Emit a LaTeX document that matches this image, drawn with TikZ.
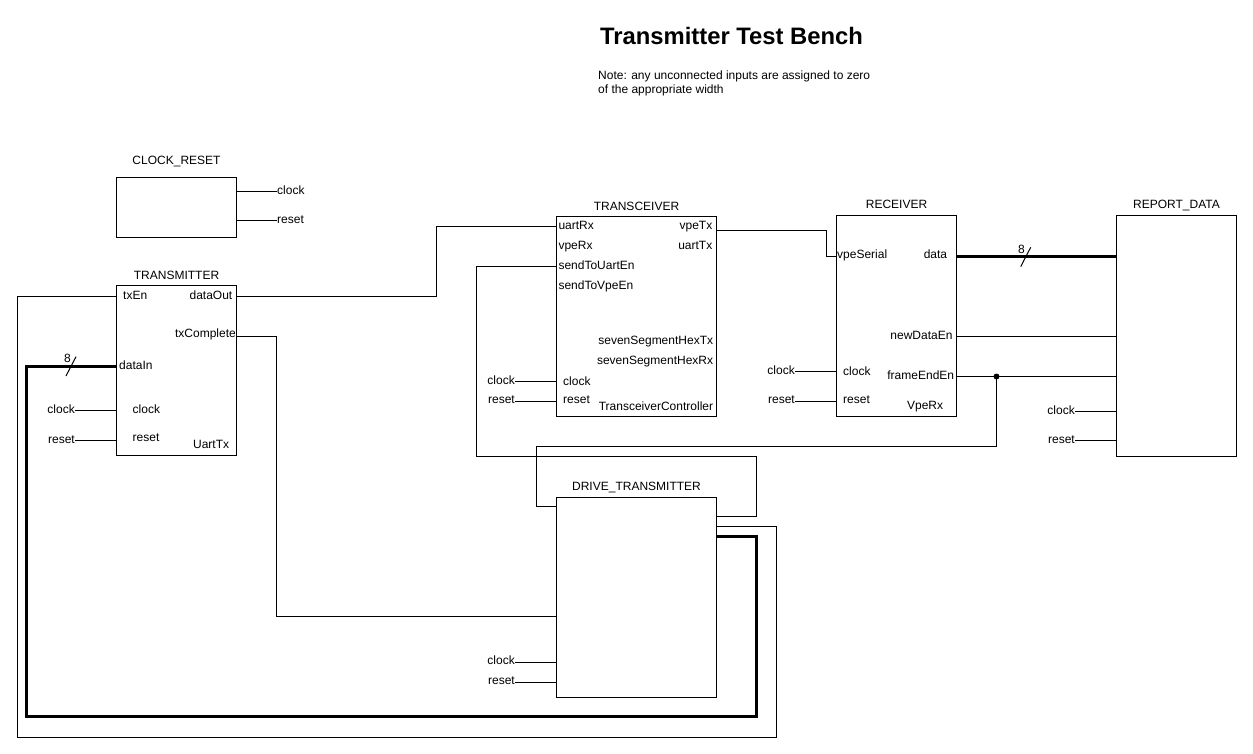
\documentclass[tikz,border=0pt]{standalone}
\usepackage{fontspec}
\setmainfont{Liberation Sans}
\usetikzlibrary{positioning}

\begin{document}
\begin{tikzpicture}[x=1pt, y=-1pt,
    box/.style = {draw, line width=1pt, anchor=north west, inner sep=0pt},% module boxes
    pin/.style = {inner sep=0pt, font=\fontsize{12}{14}\selectfont},% port labels
    wire/.style = {line width=1pt},
    bus/.style = {line width=3pt}
    ]
    \useasboundingbox (0,0) rectangle (1253,754);
    \node (title) [anchor=base west, inner sep=0pt, font=\fontsize{23.8}{28}\selectfont\bfseries] at (600,45) {Transmitter Test Bench};
    \node (note) [pin, anchor=base west, align=left] at (598,93.3) {Note: any unconnected inputs are assigned to zero\\of the appropriate width};

    % modules
    \node (cr)  [box, minimum width=120pt, minimum height=60pt]    at (116,177) {};
    \node (tx)  [box, minimum width=120pt, minimum height=170pt]   at (116,285) {};
    \node (trx) [box, minimum width=160pt, minimum height=200pt]   at (556,216) {};
    \node (rx)  [box, minimum width=120pt, minimum height=200pt]   at (836,215.5) {};
    \node (rep) [box, minimum width=120pt, minimum height=240.5pt] at (1116,215.5) {};
    \node (drv) [box, minimum width=160pt, minimum height=200pt]   at (556,496.5) {};
    \node (crName)  [pin, above=12pt of cr.north, anchor=base] {CLOCK\_RESET};
    \node (txName)  [pin, above=5.7pt of tx.north, anchor=base] {TRANSMITTER};
    \node (trxName) [pin, above=5.5pt of trx.north, anchor=base] {TRANSCEIVER};
    \node (rxName)  [pin, above=6.5pt of rx.north, anchor=base] {RECEIVER};
    \node (repName) [pin, above=6.5pt of rep.north, anchor=base] {REPORT\_DATA};
    \node (drvName) [pin, above=6.5pt of drv.north, anchor=base] {DRIVE\_TRANSMITTER};

    % ports of TRANSMITTER
    \node (txEn)    [pin, anchor=base west] at (123,299.3) {txEn};
    \node (txOut)   [pin, anchor=base east] at (232.5,299.3) {dataOut};
    \node (txDone)  [pin, anchor=base east] at (236,337.3) {txComplete};
    \node (txIn)    [pin, anchor=base west] at (119,369.3) {dataIn};
    \node (txClkIn) [pin, anchor=base west] at (132.5,413.5) {clock};
    \node (txRstIn) [pin, anchor=base west] at (132.5,441) {reset};
    \node (txType)  [pin, anchor=base east] at (229.3,448.3) {UartTx};

    % ports of TRANSCEIVER
    \node (trxURx)   [pin, anchor=base west] at (558.3,229.5) {uartRx};
    \node (trxVRx)   [pin, anchor=base west] at (558.3,249.5) {vpeRx};
    \node (trxSendU) [pin, anchor=base west] at (558.3,269.5) {sendToUartEn};
    \node (trxSendV) [pin, anchor=base west] at (558.3,289.5) {sendToVpeEn};
    \node (trxVTx)   [pin, anchor=base east] at (712.5,229.5) {vpeTx};
    \node (trxUTx)   [pin, anchor=base east] at (712.5,249.5) {uartTx};
    \node (trxHexTx) [pin, anchor=base east] at (713.3,344.3) {sevenSegmentHexTx};
    \node (trxHexRx) [pin, anchor=base east] at (713.3,364.3) {sevenSegmentHexRx};
    \node (trxClkIn) [pin, anchor=base west] at (563,385) {clock};
    \node (trxRstIn) [pin, anchor=base west] at (563,403.3) {reset};
    \node (trxType)  [pin, anchor=base east] at (713.3,410) {TransceiverController};

    % ports of RECEIVER
    \node (rxSerial) [pin, anchor=base west] at (837,258.3) {vpeSerial};
    \node (rxData)   [pin, anchor=base east] at (947.3,258.3) {data};
    \node (rxNew)    [pin, anchor=base east] at (952.7,339.3) {newDataEn};
    \node (rxClkIn)  [pin, anchor=base west] at (843,375) {clock};
    \node (rxEnd)    [pin, anchor=base east] at (954.3,379) {frameEndEn};
    \node (rxRstIn)  [pin, anchor=base west] at (843,403.3) {reset};
    \node (rxType)   [pin, anchor=base east] at (943.3,409) {VpeRx};

    % clock and reset
    \node (crClk)  [pin, anchor=mid west] at (277,191.5) {clock};
    \node (crRst)  [pin, anchor=mid west] at (277,220.5) {reset};
    \node (txClk)  [pin, anchor=mid east] at (75,410.5) {clock};
    \node (txRst)  [pin, anchor=mid east] at (75,440.5) {reset};
    \node (trxClk) [pin, anchor=mid east] at (515,381.5) {clock};
    \node (trxRst) [pin, anchor=mid east] at (515,401) {reset};
    \node (rxClk)  [pin, anchor=mid east] at (795,371.5) {clock};
    \node (rxRst)  [pin, anchor=mid east] at (795,401) {reset};
    \node (repClk) [pin, anchor=mid east] at (1075,411.5) {clock};
    \node (repRst) [pin, anchor=mid east] at (1075,440.5) {reset};
    \node (drvClk) [pin, anchor=mid east] at (515,662) {clock};
    \node (drvRst) [pin, anchor=mid east] at (515,682) {reset};
    \draw[wire] (crClk.mid west-|cr.east) -- (crClk.mid west);
    \draw[wire] (crRst.mid west-|cr.east) -- (crRst.mid west);
    \draw[wire] (txClk.mid east) -- (txClk.mid east-|tx.west);
    \draw[wire] (txRst.mid east) -- (txRst.mid east-|tx.west);
    \draw[wire] (trxClk.mid east) -- (trxClk.mid east-|trx.west);
    \draw[wire] (trxRst.mid east) -- (trxRst.mid east-|trx.west);
    \draw[wire] (rxClk.mid east) -- (rxClk.mid east-|rx.west);
    \draw[wire] (rxRst.mid east) -- (rxRst.mid east-|rx.west);
    \draw[wire] (repClk.mid east) -- (repClk.mid east-|rep.west);
    \draw[wire] (repRst.mid east) -- (repRst.mid east-|rep.west);
    \draw[wire] (drvClk.mid east) -- (drvClk.mid east-|drv.west);
    \draw[wire] (drvRst.mid east) -- (drvRst.mid east-|drv.west);

    % connections
    \draw[wire] (tx.west|-0,296) -| (17,737) -| (776,526.5) -- (drv.east|-0,526.5);
    \draw[wire] (tx.east|-0,296) -| (436,227) -- (trx.west|-0,227);
    \draw[wire] (tx.east|-0,336.5) -| (276,616) -- (drv.west|-0,616);
    \draw[bus]  (tx.west|-0,366.5) -| (26.5,716.5) -| (756,536.5) -- (drv.east|-0,536.5);
    \draw[wire] (trx.west|-0,266.5) -| (476.5,456) -| (756,516) -- (drv.east|-0,516);
    \draw[wire] (trx.east|-0,231) -| (826.5,256.5) -- (rx.west|-0,256.5);
    \draw[bus]  (rx.east|-0,256.5) -- (rep.west|-0,256.5);
    \draw[wire] (rx.east|-0,336.5) -- (rep.west|-0,336.5);
    \draw[wire] (rx.east|-0,376.5) -- (rep.west|-0,376.5);
    \coordinate (feJoin) at (996.5,376.5);
    \fill (feJoin) circle (3pt);
    \draw[wire] (feJoin) |- (536.5,446) |- (drv.west|-0,506);

    % bus widths
    \node (txWidth) [pin, anchor=base west] at (64,362.3) {8};
    \draw[wire] (76,356.7) -- (66,376);
    \node (rxWidth) [pin, anchor=base west] at (1018,253.3) {8};
    \draw[wire] (1030.7,247.3) -- (1020.7,266.7);
\end{tikzpicture}
\end{document}
